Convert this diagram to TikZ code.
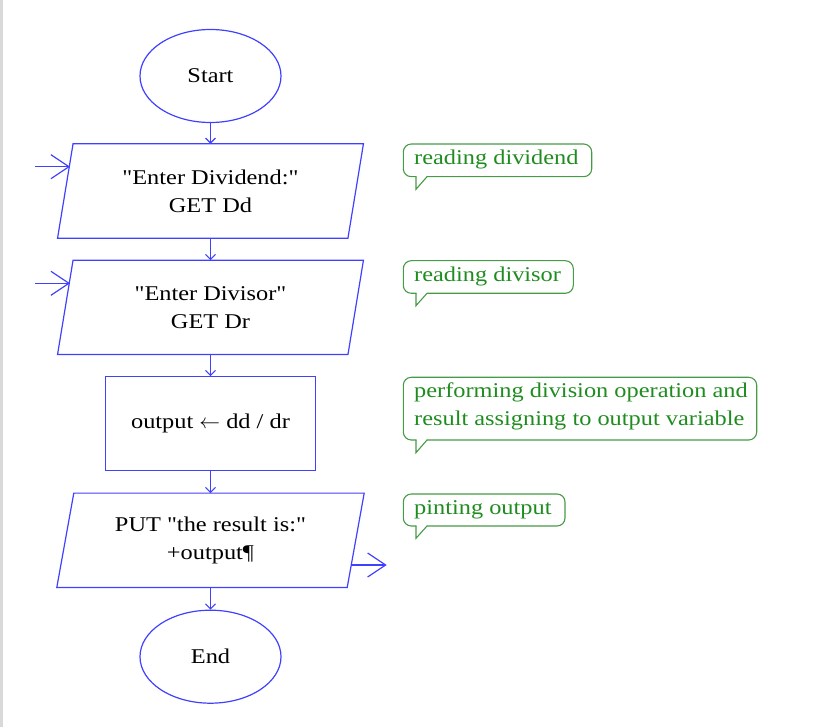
\documentclass[tikz,border=0pt]{standalone}
\usepackage{fontspec}
\newfontfamily\diagfont{Liberation Serif}[FakeStretch=1.16]
\usetikzlibrary{shapes.geometric,arrows.meta}
\definecolor{flowblue}{RGB}{64,64,255}
\definecolor{notegreen}{RGB}{30,140,30}
\definecolor{calloutgreen}{RGB}{70,155,70}
\newcommand\noteshape[5]{%
  \draw[callout, rounded corners=8pt] (427,#4) -- (#3,#4) -- (#3,#2) -- (#1,#2) -- (#1,#4) -- (416,#4);
  \draw[callout, line join=miter] (416,#4) -- (416,#5) -- (427,#4);
}
\begin{document}
\begin{tikzpicture}[x=1pt,y=-1pt,
  every node/.style={font=\diagfont\fontsize{21}{28}\selectfont, inner sep=0pt},
  flow/.style={draw=flowblue, line width=1.2pt},
  term/.style={flow, ellipse, minimum width=141pt, minimum height=93pt},
  iobox/.style={minimum width=290pt, minimum height=94pt, align=center},
  procbox/.style={flow, rectangle, minimum width=210pt, minimum height=94pt},
  link/.style={draw=flowblue, line width=1.1pt, -{Straight Barb[length=5pt,width=10pt]}},
  bigarrow/.style={draw=flowblue, line width=1.2pt, -{Straight Barb[length=18pt,width=24pt]}},
  notetext/.style={text=notegreen, align=left, anchor=west},
  callout/.style={draw=calloutgreen, line width=1.1pt, line cap=round},
]
\useasboundingbox (0,0) rectangle (833,727);
\fill[gray!30] (0,0) rectangle (3,727);

% flowchart
\node[term] (start) at (210.5,76) {Start};
\node[iobox] (p1) at (210.5,191) {"Enter Dividend:"\\GET Dd};
\draw[flow] ([xshift=7.75pt]p1.north west) -- ([xshift=7.75pt]p1.north east) -- ([xshift=-7.75pt]p1.south east) -- ([xshift=-7.75pt]p1.south west) -- cycle;
\node[iobox] (p2) at (210.5,307.4) {"Enter Divisor"\\GET Dr};
\draw[flow] ([xshift=7.75pt]p2.north west) -- ([xshift=7.75pt]p2.north east) -- ([xshift=-7.75pt]p2.south east) -- ([xshift=-7.75pt]p2.south west) -- cycle;
\node[procbox] (proc) at (210.5,423.7) {output $\leftarrow$ dd / dr};
\node[iobox] (p3) at (210.5,540.3) {PUT "the result is:"\\+output¶};
\draw[flow] ([xshift=8.5pt]p3.north west) -- ([xshift=8.5pt]p3.north east) -- ([xshift=-8.5pt]p3.south east) -- ([xshift=-8.5pt]p3.south west) -- cycle;
\node[term] (end) at (210.5,656.7) {End};

\draw[link] (start) -- (p1);
\draw[link] (p1) -- (p2);
\draw[link] (p2) -- (proc);
\draw[link] (proc) -- (p3);
\draw[link] (p3) -- (end);

% entry / exit arrows
\coordinate (in1) at (35,166.7);
\coordinate (in1tip) at (70,166.7);
\coordinate (in2) at (35,283.3);
\coordinate (in2tip) at (70,283.3);
\coordinate (out3) at (350.7,565);
\coordinate (out3tip) at (386.7,565);
\draw[bigarrow] (in1) -- (in1tip);
\draw[bigarrow] (in2) -- (in2tip);
\draw[bigarrow] (out3) -- (out3tip);

% callouts
\noteshape{403.3}{144}{591.7}{176.7}{189.3}
\node[notetext] (c1) at (414,159) {reading dividend};
\noteshape{403.3}{260.7}{573.3}{293.3}{305.7}
\node[notetext] (c2) at (414,276) {reading divisor};
\noteshape{403.3}{377.3}{756.7}{440}{452.7}
\node[notetext] (c3) at (414,406) {performing division operation and\\result assigning to output variable};
\noteshape{403.3}{494}{565}{526}{538.3}
\node[notetext] (c4) at (414,510) {pinting output};
\end{tikzpicture}
\end{document}
